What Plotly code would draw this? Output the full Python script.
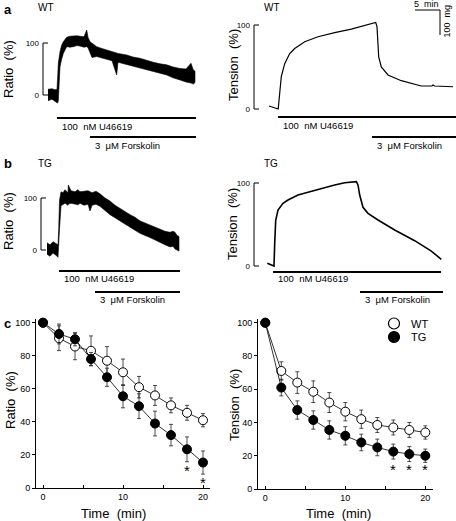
import plotly.graph_objects as go

W, H = 456, 521
FONT = "Liberation Sans, Arial, sans-serif"

# ---------------- DATA ----------------
# Panel a (WT) – Fura-2 ratio trace, noise envelope (time in min, %)
A_RATIO_T = [1.0, 1.8, 2.4, 2.8, 2.96, 3.06, 3.4, 3.7, 4.06, 4.74, 5.4, 6.06, 6.8, 7.4, 8.2, 8.74, 9.0,
             9.4, 9.8, 10.74, 11.6, 12.74, 13.8, 14.74, 15.0, 16.74, 18.0, 19.4, 20.8, 22.06, 23.4,
             24.74, 26.0, 27.4, 28.6, 29.6, 30.06, 30.4]
A_RATIO_UP = [11, 12, 10, 11, 40, 61, 83, 95, 102.5, 111, 113, 113.5, 114, 113, 112, 125, 111,
              102.5, 100, 93, 90, 86.5, 84, 81.4, 80, 77, 73, 70.5, 66, 63, 60,
              58, 54, 51, 50, 61, 48, 46]
A_RATIO_LO = [-11, -8, -12, -15, -15, -11, 54, 68, 80, 93, 92, 93, 95, 94, 92, 93, 91,
              83, 72, 74, 71, 68.6, 66, 38.5, 63, 59, 56, 53, 49, 45, 42,
              38.5, 33, 29, 25, 23, 21, 24]

# Panel b (TG) – ratio trace envelope
B_RATIO_T = [1.2, 1.8, 2.4, 3.0, 3.4, 3.54, 3.7, 4.0, 4.4, 4.8, 5.4, 5.46, 6.0, 6.8, 7.4, 7.8, 8.6,
             9.4, 9.8, 10.2, 11.0, 11.8, 12.8, 13.8, 14.8, 15.8, 16.8, 17.8, 18.8, 19.8, 20.8, 21.8,
             22.8, 23.8, 24.8, 25.8, 26.4, 26.8, 27.2, 27.6]
B_RATIO_UP = [14, 10, 16, 12, 10, 40, 95, 112, 110, 116, 110, 125, 114, 112, 116, 112, 113,
              114, 112, 110, 113, 108, 100, 94, 86, 80, 73, 68, 63, 56, 52, 48,
              44, 40, 36, 34, 36, 34, 28, 26]
B_RATIO_LO = [-8, -12, -6, -10, -14, -14, 40, 85, 88, 90, 86, 88, 90, 88, 87, 90, 86,
              88, 75, 86, 88, 84, 76, 68, 62, 56, 49, 44, 38, 32, 28, 24,
              19, 15, 10, 6, 7, 2, 0, -2]

# Panel a (WT) – tension trace
A_TENS_T = [3.0, 4.6, 4.84, 5.14, 5.46, 6.14, 7.14, 8.14, 10.14, 12.8, 16.14, 19.46, 22.8, 24.34,
            24.6, 24.94, 25.46, 26.8, 29.46, 33.46, 35.6, 35.8, 36.14, 39.8]
A_TENS_V = [3.6, 0.5, 0, 18.7, 38.5, 54, 66, 72, 80, 86, 91, 95, 100, 103,
            98, 62, 50, 40.5, 33.7, 27.4, 27.4, 28.6, 27.4, 26.5]

# Panel b (TG) – tension trace
B_TENS_T = [2.66, 4.0, 4.14, 4.34, 4.8, 5.8, 6.8, 8.8, 10.8, 13.46, 16.14, 18.14, 20.46, 20.8,
            21.14, 21.8, 22.8, 24.8, 28.14, 32.14, 35.46, 37.46]
B_TENS_V = [3.2, 0, 27, 55, 67.5, 75.5, 79.5, 85.5, 88.8, 93.6, 97.6, 100.4, 101.6, 97.6,
            85.5, 70.7, 63.5, 55.4, 43.4, 30.5, 18, 8]

# Drug application periods (min) [start, end]
A_RATIO_U46619 = [2.8, 30.6]
A_RATIO_FSK = [9.4, 30.6]
B_RATIO_U46619 = [3.6, 27.8]
B_RATIO_FSK = [10.8, 27.8]
A_TENS_U46619 = [4.8, 40.4]
A_TENS_FSK = [23.6, 40.4]
B_TENS_U46619 = [3.8, 37.4]
B_TENS_FSK = [21.2, 37.8]

# Panel c – summary data
TIME = [0, 2, 4, 6, 8, 10, 12, 14, 16, 18, 20]
RATIO_WT = [100, 90.6, 85.6, 83, 77, 70, 61, 56, 50, 45.5, 41]
RATIO_WT_SE = [0, 7.5, 8, 9, 8.5, 8, 6.5, 6, 4.5, 4.5, 4]
RATIO_TG = [100, 93.2, 90, 78, 67, 55.5, 49.5, 39, 32, 23.4, 15.4]
RATIO_TG_SE = [0, 6, 4, 4, 5.5, 7, 7.5, 7.5, 6.5, 7.5, 7]
TENS_WT = [100, 71, 64, 58.5, 52, 46.5, 42, 38.5, 37, 35.5, 34]
TENS_WT_SE = [0, 5.5, 6.5, 6.5, 6, 5.5, 5.5, 4.5, 4.5, 4.5, 4]
TENS_TG = [100, 61, 47.5, 41.5, 35.5, 32, 28, 25, 22.5, 21, 20]
TENS_TG_SE = [0, 5, 5.5, 5.5, 5.5, 5.5, 5, 5, 4.5, 4.5, 4]
RATIO_SIG = [18, 20]
TENS_SIG = [16, 18, 20]

U_LABEL = "100  nM U46619"
F_LABEL = "3  μM Forskolin"

# ---------------- LAYOUT HELPERS ----------------
def fx(px):
    return px / W

def fy(py):
    return 1 - py / H

def sfx(n):
    return "" if n == 1 else str(n)

fig = go.Figure()
annotations = []
shapes = []

PX_PER_MIN = 5.0

trace_panels = {
    "aL": dict(n=1, x0=43, x1=200, y0=95, k=0.52, top=20, bot=152),
    "aR": dict(n=2, x0=254, x1=456, y0=109, k=0.84, top=0, bot=152),
    "bL": dict(n=3, x0=41, x1=200, y0=250, k=0.52, top=178, bot=305),
    "bR": dict(n=4, x0=254, x1=456, y0=266, k=0.83, top=172, bot=305),
}

layout_axes = {}
for key, p in trace_panels.items():
    n = p["n"]
    s = sfx(n)
    xr = [0, (p["x1"] - p["x0"]) / PX_PER_MIN]
    yr = [(p["y0"] - p["bot"]) / p["k"], (p["y0"] - p["top"]) / p["k"]]
    layout_axes[f"xaxis{s}"] = dict(domain=[fx(p["x0"]), fx(p["x1"])], range=xr, visible=False,
                                    anchor=f"y{s}", fixedrange=True, automargin=False)
    layout_axes[f"yaxis{s}"] = dict(domain=[fy(p["bot"]), fy(p["top"])], range=yr, anchor=f"x{s}",
                                    tickvals=[0, 100], ticktext=["0", "100"], showline=False,
                                    showgrid=False, zeroline=False, ticks="",
                                    tickfont=dict(size=8, family=FONT, color="black"),
                                    ticklabelstandoff=3, fixedrange=True, automargin=False)
    tick_frac = 5 / (p["x1"] - p["x0"])
    shapes.append(dict(type="line", xref=f"x{s} domain", yref=f"y{s}", x0=0, x1=0, y0=0, y1=100,
                       line=dict(color="black", width=1)))
    for v in (0, 100):
        shapes.append(dict(type="line", xref=f"x{s} domain", yref=f"y{s}", x0=0, x1=tick_frac,
                           y0=v, y1=v, line=dict(color="black", width=1)))


def noise_band(n, t, up, lo):
    s = sfx(n)
    fig.add_trace(go.Scatter(x=t + t[::-1], y=up + lo[::-1], fill="toself", fillcolor="black",
                             mode="lines", line=dict(color="black", width=0.6),
                             xaxis=f"x{s}", yaxis=f"y{s}", showlegend=False, hoverinfo="skip"))


def drug_bars(n, u, f, yu, yf, lu, lf):
    s = sfx(n)
    for (seg, yb, ylab, lab) in ((u, yu, lu, U_LABEL), (f, yf, lf, F_LABEL)):
        fig.add_trace(go.Scatter(x=seg, y=[yb, yb], mode="lines", line=dict(color="black", width=2.2),
                                 xaxis=f"x{s}", yaxis=f"y{s}", showlegend=False, hoverinfo="skip"))
        annotations.append(dict(x=seg[0] + 0.5, y=ylab, xref=f"x{s}", yref=f"y{s}", text=lab,
                                showarrow=False, xanchor="left", yanchor="middle",
                                font=dict(size=9.5, family=FONT, color="black")))


noise_band(1, A_RATIO_T, A_RATIO_UP, A_RATIO_LO)
noise_band(3, B_RATIO_T, B_RATIO_UP, B_RATIO_LO)
fig.add_trace(go.Scatter(x=A_TENS_T, y=A_TENS_V, mode="lines", line=dict(color="black", width=1.2),
                         xaxis="x2", yaxis="y2", showlegend=False))
fig.add_trace(go.Scatter(x=B_TENS_T, y=B_TENS_V, mode="lines", line=dict(color="black", width=1.6),
                         xaxis="x4", yaxis="y4", showlegend=False))


def val(p, py):
    return (p["y0"] - py) / p["k"]


pa, pb, pc, pd = trace_panels["aL"], trace_panels["aR"], trace_panels["bL"], trace_panels["bR"]
drug_bars(1, A_RATIO_U46619, A_RATIO_FSK, val(pa, 118), val(pa, 137), val(pa, 127), val(pa, 146))
drug_bars(2, A_TENS_U46619, A_TENS_FSK, val(pb, 117), val(pb, 137), val(pb, 125.5), val(pb, 145.5))
drug_bars(3, B_RATIO_U46619, B_RATIO_FSK, val(pc, 271), val(pc, 292), val(pc, 278.5), val(pc, 299))
drug_bars(4, B_TENS_U46619, B_TENS_FSK, val(pd, 272), val(pd, 292), val(pd, 278.5), val(pd, 299))

# scale bar (5 min / 100 mg) on panel a tension
SCALE_MIN = 5
SCALE_MG = 100
MG_PER_PCT = 100 / 29.8
sb_t0 = (415 - pb["x0"]) / PX_PER_MIN
sb_v = val(pb, 10)
fig.add_trace(go.Scatter(x=[sb_t0, sb_t0 + SCALE_MIN, sb_t0 + SCALE_MIN],
                         y=[sb_v, sb_v, sb_v - SCALE_MG / MG_PER_PCT], mode="lines",
                         line=dict(color="black", width=1), xaxis="x2", yaxis="y2",
                         showlegend=False, hoverinfo="skip", cliponaxis=False))
annotations.append(dict(x=sb_t0 + SCALE_MIN / 2 - 0.3, y=val(pb, 4), xref="x2", yref="y2", text="5  min",
                        showarrow=False, xanchor="center", yanchor="middle",
                        font=dict(size=9, family=FONT, color="black")))
annotations.append(dict(x=fx(446.5), y=fy(21), xref="paper", yref="paper", text="100  mg",
                        textangle=-90, showarrow=False, xanchor="center", yanchor="middle",
                        font=dict(size=9, family=FONT, color="black")))

# ---------------- panel c ----------------
c_left = dict(x0=36, x1=210, yb=488, yt=319.4)
c_right = dict(x0=258, x1=433, yb=489, yt=319.4)
for n, c, xr in ((5, c_left, [-0.875, 20.875]), (6, c_right, [-0.91, 20.96])):
    layout_axes[f"xaxis{n}"] = dict(domain=[fx(c["x0"]), fx(c["x1"])], range=xr, anchor=f"y{n}",
                                    tickvals=[0, 5, 10, 15, 20], ticktext=["0", "", "10", "", "20"],
                                    ticks="inside", ticklen=3, tickwidth=1, tickcolor="black",
                                    showline=True, linecolor="black", linewidth=1,
                                    showgrid=False, zeroline=False, automargin=False,
                                    tickfont=dict(size=9, family=FONT, color="black"), fixedrange=True)
    layout_axes[f"yaxis{n}"] = dict(domain=[fy(c["yb"]), fy(c["yt"])], range=[0, 102], anchor=f"x{n}",
                                    tickvals=[0, 20, 40, 60, 80, 100], ticks="outside", ticklen=3,
                                    tickwidth=1, tickcolor="black", showline=True, linecolor="black",
                                    linewidth=1, showgrid=False, zeroline=False, automargin=False,
                                    tickfont=dict(size=9, family=FONT, color="black"), fixedrange=True)


def series(n, y, se, filled):
    fig.add_trace(go.Scatter(
        x=TIME, y=y, mode="lines+markers", xaxis=f"x{n}", yaxis=f"y{n}", showlegend=False,
        line=dict(color="black", width=0.8),
        marker=dict(size=9, color="black" if filled else "white", line=dict(color="black", width=1)),
        error_y=dict(type="data", array=se, visible=True, color="#222222", thickness=0.8, width=2),
        cliponaxis=False))


series(5, RATIO_WT, RATIO_WT_SE, False)
series(5, RATIO_TG, RATIO_TG_SE, True)
series(6, TENS_WT, TENS_WT_SE, False)
series(6, TENS_TG, TENS_TG_SE, True)

for t in RATIO_SIG:
    i = TIME.index(t)
    annotations.append(dict(x=t, y=RATIO_TG[i] - RATIO_TG_SE[i] - 3.5, xref="x5", yref="y5", text="*",
                            showarrow=False, yshift=-3, xanchor="center", yanchor="middle",
                            font=dict(size=15, family=FONT, color="black")))
for t in TENS_SIG:
    annotations.append(dict(x=t, y=13.8, xref="x6", yref="y6", text="*",
                            showarrow=False, yshift=-3, xanchor="center", yanchor="middle",
                            font=dict(size=15, family=FONT, color="black")))

# legend (drawn)
for py, fill, lab in ((323.5, "white", "WT"), (337, "black", "TG")):
    shapes.append(dict(type="circle", xref="paper", yref="paper", x0=fx(388.5), x1=fx(399.5),
                       y0=fy(py + 5.5), y1=fy(py - 5.5), fillcolor=fill,
                       line=dict(color="black", width=1.2)))
    annotations.append(dict(x=fx(409), y=fy(py), xref="paper", yref="paper", text=lab, showarrow=False,
                            xanchor="left", yanchor="middle",
                            font=dict(size=11, family=FONT, color="black")))

# ---------------- texts ----------------
def txt(x, y, s, size, bold=False, angle=0, anchor="center"):
    annotations.append(dict(x=fx(x), y=fy(y), xref="paper", yref="paper",
                            text=f"<b>{s}</b>" if bold else s, textangle=angle, showarrow=False,
                            xanchor=anchor, yanchor="middle",
                            font=dict(size=size, family=FONT, color="black")))

txt(2, 9, "a", 13, bold=True, anchor="left")
txt(2, 163, "b", 13, bold=True, anchor="left")
txt(2, 323, "c", 13, bold=True, anchor="left")
txt(36, 8, "WT", 10, anchor="left")
txt(262, 8, "WT", 10, anchor="left")
txt(36, 163, "TG", 10, anchor="left")
txt(262, 163, "TG", 10, anchor="left")
txt(8, 69, "Ratio  (%)", 13, angle=-90)
txt(8, 221, "Ratio  (%)", 13, angle=-90)
txt(233, 65, "Tension  (%)", 13, angle=-90)
txt(233, 224, "Tension  (%)", 13, angle=-90)
txt(10, 400, "Ratio  (%)", 13, angle=-90)
txt(234, 405, "Tension  (%)", 13, angle=-90)
txt(113, 513, "Time  (min)", 13)
txt(338, 513, "Time  (min)", 13)

fig.update_layout(width=W, height=H, margin=dict(l=0, r=0, t=0, b=0, pad=0, autoexpand=False),
                  paper_bgcolor="white", plot_bgcolor="rgba(0,0,0,0)", showlegend=False,
                  annotations=annotations, shapes=shapes, font=dict(family=FONT, color="black"),
                  **layout_axes)

fig.write_html("out.html", config={"displayModeBar": False},
               post_script="document.body.style.margin='0';document.body.style.padding='0';")
